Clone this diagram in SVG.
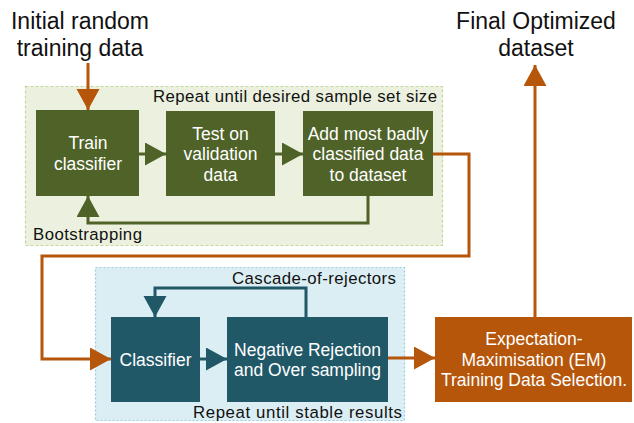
<svg xmlns="http://www.w3.org/2000/svg" width="634" height="423" viewBox="0 0 634 423">
  <defs>
    <style>
      text { font-family: "Liberation Sans", Arial, sans-serif; }
      .title { font-size: 23px; fill: #111; text-anchor: middle; }
      .label { font-size: 16.8px; fill: #111; }
      .boxtext { font-size: 17.5px; fill: #ffffff; text-anchor: middle; }
      .green { fill: #4f6228; }
      .teal { fill: #215868; }
      .orange { fill: #b5560b; }
      .c-green { stroke: #4f6228; stroke-width: 3; fill: none; }
      .c-teal { stroke: #215868; stroke-width: 3; fill: none; }
      .c-orange { stroke: #b5560b; stroke-width: 3; fill: none; }
    </style>
    <marker id="ah-green" markerUnits="userSpaceOnUse" markerWidth="22" markerHeight="24" refX="21" refY="11.5" orient="auto">
      <path d="M0,0 L21,11.5 L0,23 Z" fill="#4f6228"/>
    </marker>
    <marker id="ah-teal" markerUnits="userSpaceOnUse" markerWidth="22" markerHeight="24" refX="21" refY="11.5" orient="auto">
      <path d="M0,0 L21,11.5 L0,23 Z" fill="#215868"/>
    </marker>
    <marker id="ah-orange" markerUnits="userSpaceOnUse" markerWidth="22" markerHeight="24" refX="21" refY="11.5" orient="auto">
      <path d="M0,0 L21,11.5 L0,23 Z" fill="#b5560b"/>
    </marker>
  </defs>

  <rect width="634" height="423" fill="#ffffff"/>

  <!-- loop containers -->
  <g id="bootstrapping-loop">
    <rect x="25.5" y="86.5" width="417" height="159" fill="#ebf1de" stroke="#c3d69b" stroke-width="1.2" stroke-dasharray="3,2"/>
    <text class="label" x="153" y="102" textLength="284" lengthAdjust="spacing">Repeat until desired sample set size</text>
    <text class="label" x="33" y="240" textLength="109" lengthAdjust="spacing">Bootstrapping</text>
  </g>
  <g id="cascade-loop">
    <rect x="95.5" y="267.5" width="309" height="153" fill="#dbeef4" stroke="#93cddd" stroke-width="1.2" stroke-dasharray="2,2"/>
    <text class="label" x="232" y="284" textLength="164" lengthAdjust="spacing">Cascade-of-rejectors</text>
    <text class="label" x="193" y="418" textLength="209" lengthAdjust="spacing">Repeat until stable results</text>
  </g>

  <!-- titles -->
  <g id="initial-data">
    <text class="title" x="80" y="29">Initial random</text>
    <text class="title" x="80" y="56">training data</text>
  </g>
  <g id="final-dataset">
    <text class="title" x="536" y="29">Final Optimized</text>
    <text class="title" x="536" y="56">dataset</text>
  </g>

  <!-- process nodes -->
  <g id="train-classifier">
    <rect class="green" x="36" y="110" width="103" height="86"/>
    <text class="boxtext" x="88" y="149">Train</text>
    <text class="boxtext" x="88" y="170">classifier</text>
  </g>
  <g id="test-validation">
    <rect class="green" x="166" y="111" width="109" height="85"/>
    <text class="boxtext" x="220.5" y="139.5">Test on</text>
    <text class="boxtext" x="220.5" y="160">validation</text>
    <text class="boxtext" x="220.5" y="180.5">data</text>
  </g>
  <g id="add-badly-classified">
    <rect class="green" x="303" y="111" width="130" height="85"/>
    <text class="boxtext" x="368" y="139.5">Add most badly</text>
    <text class="boxtext" x="368" y="160">classified data</text>
    <text class="boxtext" x="368" y="180.5">to dataset</text>
  </g>
  <g id="classifier">
    <rect class="teal" x="111" y="317" width="89" height="85"/>
    <text class="boxtext" x="155.5" y="366">Classifier</text>
  </g>
  <g id="negative-rejection">
    <rect class="teal" x="227" y="317" width="161" height="85"/>
    <text class="boxtext" x="307.5" y="356">Negative Rejection</text>
    <text class="boxtext" x="307.5" y="376">and Over sampling</text>
  </g>
  <g id="em-selection">
    <rect class="orange" x="435" y="317" width="197" height="85"/>
    <text class="boxtext" x="534" y="345">Expectation-</text>
    <text class="boxtext" x="534" y="365.5">Maximisation (EM)</text>
    <text class="boxtext" x="534" y="386">Training Data Selection.</text>
  </g>

  <!-- connectors -->
  <g id="connectors">
    <path class="c-orange" d="M88,63 V110" marker-end="url(#ah-orange)"/>
    <path class="c-green" d="M139,154 H166" marker-end="url(#ah-green)"/>
    <path class="c-green" d="M275,154 H303" marker-end="url(#ah-green)"/>
    <path class="c-green" d="M368,196 V223 H88 V196" marker-end="url(#ah-green)"/>
    <path class="c-orange" d="M433,154 H469 V256 H42 V359 H111" marker-end="url(#ah-orange)"/>
    <path class="c-teal" d="M200,359 H227" marker-end="url(#ah-teal)"/>
    <path class="c-teal" d="M306,317 V288 H155 V317" marker-end="url(#ah-teal)"/>
    <path class="c-orange" d="M388,358 H435" marker-end="url(#ah-orange)"/>
    <path class="c-orange" d="M535,317 V65" marker-end="url(#ah-orange)"/>
  </g>
</svg>
